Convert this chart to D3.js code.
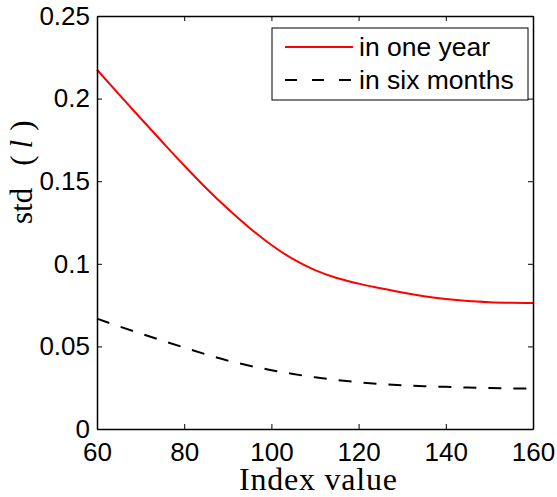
<!DOCTYPE html>
<html>
<head>
<meta charset="utf-8">
<script src="https://cdn.jsdelivr.net/npm/d3@7"></script>
<style>
  html, body { margin: 0; padding: 0; background: #fff; }
  svg { display: block; }
  .tick-label { font-family: "Liberation Sans", Arial, sans-serif; font-size: 26px; fill: #000; }
  .legend-text { font-family: "Liberation Sans", Arial, sans-serif; font-size: 26.5px; fill: #000; }
  .serif { font-family: "Liberation Serif", "Times New Roman", serif; fill: #000; }
</style>
</head>
<body>
<svg id="chart" width="557" height="497"></svg>
<script>
// Index values at which the spread was evaluated
const indexValues = [60, 65, 70, 75, 80, 85, 90, 95, 100, 105, 110, 115, 120, 125, 130, 135, 140, 145, 150, 155, 160];
// std(l) over a one-year horizon
const oneYear = [0.2175, 0.2027, 0.1881, 0.1737, 0.1595, 0.1459, 0.1333, 0.1217, 0.1114, 0.1028, 0.0962, 0.0914, 0.0880, 0.0852, 0.0826, 0.0804, 0.0787, 0.0775, 0.0768, 0.0764, 0.0762];
// std(l) over a six-month horizon
const sixMonths = [0.0668, 0.0622, 0.0578, 0.0535, 0.0493, 0.0452, 0.0414, 0.0383, 0.0356, 0.0333, 0.0313, 0.0297, 0.0283, 0.0273, 0.0265, 0.0259, 0.0255, 0.0251, 0.0248, 0.0246, 0.0244];
const xTicks = [60, 80, 100, 120, 140, 160];
const yTicks = [0, 0.05, 0.1, 0.15, 0.2, 0.25];
const yTickLabels = ["0", "0.05", "0.1", "0.15", "0.2", "0.25"];
const seriesNames = ["in one year", "in six months"];

const svg = d3.select("#chart");
const plotLeft = 97, plotRight = 533, plotTop = 16, plotBottom = 429;

const x = d3.scaleLinear().domain([60, 160]).range([plotLeft, plotRight]);
const y = d3.scaleLinear().domain([0, 0.25]).range([plotBottom, plotTop]);

const line = d3.line()
  .x((d, i) => x(indexValues[i]))
  .y(d => y(d))
  .curve(d3.curveMonotoneX);

// curves
svg.append("path")
  .datum(oneYear)
  .attr("d", line)
  .attr("fill", "none")
  .attr("stroke", "#ff0000")
  .attr("stroke-width", 2);

svg.append("path")
  .datum(sixMonths)
  .attr("d", line)
  .attr("fill", "none")
  .attr("stroke", "#000")
  .attr("stroke-width", 2)
  .attr("stroke-dasharray", "13,12");

// box axes with inward ticks on all four sides
const tickLen = 5;
const axisBottom = d3.axisBottom(x).tickValues(xTicks).tickSizeInner(-tickLen).tickSizeOuter(0).tickPadding(14);
const axisTop = d3.axisTop(x).tickValues(xTicks).tickSizeInner(-tickLen).tickSizeOuter(0).tickFormat("");
const axisLeft = d3.axisLeft(y).tickValues(yTicks).tickSizeInner(-tickLen).tickSizeOuter(0).tickPadding(7)
  .tickFormat((d, i) => yTickLabels[i]);
const axisRight = d3.axisRight(y).tickValues(yTicks).tickSizeInner(-tickLen).tickSizeOuter(0).tickFormat("");

function styleAxis(g) {
  g.attr("font-size", null).attr("font-family", null);
  g.select(".domain").attr("stroke", "#000").attr("stroke-width", 1.5);
  g.selectAll(".tick line").attr("stroke", "#000").attr("stroke-width", 1);
  g.selectAll(".tick text").attr("class", "tick-label");
}

svg.append("g").attr("transform", `translate(0,${plotBottom})`).call(axisBottom).call(styleAxis);
svg.append("g").attr("transform", `translate(0,${plotTop})`).call(axisTop).call(styleAxis);
svg.append("g").attr("transform", `translate(${plotLeft},0)`).call(axisLeft).call(styleAxis);
svg.append("g").attr("transform", `translate(${plotRight},0)`).call(axisRight).call(styleAxis);

// axis titles
svg.append("text")
  .attr("class", "serif")
  .attr("x", (plotLeft + plotRight) / 2 + 3)
  .attr("y", 490)
  .attr("text-anchor", "middle")
  .attr("font-size", 32)
  .attr("textLength", 158)
  .attr("lengthAdjust", "spacing")
  .text("Index value");

const yTitle = svg.append("text")
  .attr("class", "serif")
  .attr("transform", "translate(32,224) rotate(-90)")
  .attr("font-size", 31);
yTitle.append("tspan").text("std");
yTitle.append("tspan").attr("dx", 22).text("(");
yTitle.append("tspan").attr("dx", 7).attr("font-style", "italic").text("l");
yTitle.append("tspan").attr("dx", 9).text(")");

// legend
const legend = svg.append("g");
legend.append("rect")
  .attr("x", 272).attr("y", 28)
  .attr("width", 256).attr("height", 72)
  .attr("fill", "#fff")
  .attr("stroke", "#000")
  .attr("stroke-width", 1);

const legendRows = [
  { name: seriesNames[0], color: "#ff0000", dash: null, cy: 47 },
  { name: seriesNames[1], color: "#000", dash: "12,15", cy: 80 }
];
legendRows.forEach(r => {
  legend.append("line")
    .attr("x1", 285).attr("x2", 353)
    .attr("y1", r.cy).attr("y2", r.cy)
    .attr("stroke", r.color)
    .attr("stroke-width", 2)
    .attr("stroke-dasharray", r.dash);
  legend.append("text")
    .attr("class", "legend-text")
    .attr("x", 359)
    .attr("y", r.cy + 9)
    .text(r.name);
});
</script>
</body>
</html>
